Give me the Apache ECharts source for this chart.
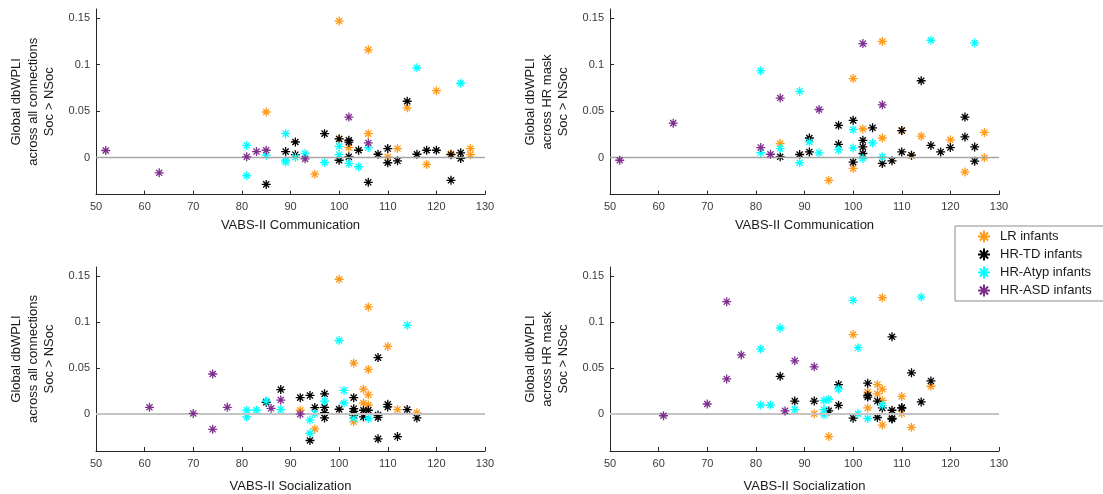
<!DOCTYPE html>
<html>
<head>
<meta charset="utf-8">
<script src="https://cdn.jsdelivr.net/npm/echarts@6/dist/echarts.min.js"></script>
<style>
html,body{margin:0;padding:0;background:#fff;}
#c{width:1103px;height:494px;}
</style>
</head>
<body>
<div id="c"></div>
<script>
// ---- Data ----
const groups = ['LR infants', 'HR-TD infants', 'HR-Atyp infants', 'HR-ASD infants'];
const groupColors = ['#FF9A1A', '#000000', '#00FFFF', '#7E2F8E'];
const xTicks = [50, 60, 70, 80, 90, 100, 110, 120, 130];
const yTicks = [0, 0.05, 0.1, 0.15];
const xLabels = ['VABS-II Communication', 'VABS-II Communication', 'VABS-II Socialization', 'VABS-II Socialization'];
const yLabels = [
  'Global dbWPLI\nacross all connections\nSoc > NSoc',
  'Global dbWPLI\nacross HR mask\nSoc > NSoc',
  'Global dbWPLI\nacross all connections\nSoc > NSoc',
  'Global dbWPLI\nacross HR mask\nSoc > NSoc'
];

// Panel 1: Communication vs all connections
const p1LR = [[85,0.049],[95,-0.018],[100,0.147],[100,0.020],[102,0.0107],[106,0.116],[106,0.0257],[110,0.0007],[112,0.0096],[114,0.0535],[118,-0.0075],[120,0.072],[123,0.004],[127,0.0096],[127,0.003]];
const p1TD = [[85,-0.029],[89,0.0064],[91,0.0167],[91,0.003],[97,0.0257],[100,0.020],[100,-0.003],[102,0.0185],[102,0.0165],[102,0.0007],[104,0.0078],[106,-0.0268],[108,0.0035],[110,0.0096],[110,-0.0057],[112,-0.0036],[114,0.0606],[116,0.0035],[118,0.0078],[120,0.0078],[123,0.003],[123,-0.0246],[125,0.005],[125,-0.001]];
const p1Atyp = [[81,0.013],[81,-0.0197],[85,0.0025],[89,0.0257],[89,-0.003],[89,-0.005],[91,0.0003],[93,0.0043],[97,-0.0054],[100,0.012],[100,0.003],[102,-0.0064],[104,-0.010],[106,0.0107],[116,0.0967],[125,0.08]];
const p1ASD = [[52,0.0075],[63,-0.0165],[81,0.0007],[83,0.0064],[85,0.0078],[93,-0.0015],[102,0.0435],[106,0.0157]];

// Panel 2: Communication vs HR mask
const p2LR = [[85,0.015],[95,-0.0246],[100,0.085],[100,-0.0118],[102,0.0307],[106,0.125],[106,0.021],[110,0.029],[112,0.0025],[114,0.023],[120,0.019],[123,-0.0157],[127,0.027],[127,-0.0004]];
const p2TD = [[85,0.0007],[89,0.0032],[91,0.021],[91,0.006],[97,0.0346],[97,0.0142],[100,0.04],[100,-0.005],[102,0.0185],[102,0.0114],[102,0.0043],[104,0.032],[106,-0.0064],[108,-0.0036],[110,0.029],[110,0.006],[112,0.0025],[114,0.0827],[116,0.013],[118,0.006],[120,0.0107],[123,0.0435],[123,0.0221],[125,0.0114],[125,-0.004]];
const p2Atyp = [[81,0.0935],[81,0.0053],[85,0.0096],[89,0.0713],[89,-0.0057],[91,0.0167],[93,0.005],[97,0.0082],[100,0.03],[100,0.0103],[102,-0.0011],[104,0.0157],[106,0.0007],[116,0.1263],[125,0.1234]];
const p2ASD = [[52,-0.003],[63,0.037],[81,0.0107],[83,0.0035],[85,0.064],[93,0.0517],[102,0.1227],[106,0.0567]];

// Panel 3: Socialization vs all connections
const p3LR = [[92,0.0043],[95,-0.016],[100,0.1467],[103,0.0555],[103,-0.0083],[105,0.0272],[105,0.0122],[106,0.1166],[106,0.0487],[106,0.0211],[106,0.01],[110,0.0737],[112,0.005],[116,0.0015]];
const p3TD = [[85,0.013],[88,0.0268],[92,0.018],[94,0.0204],[94,-0.0286],[95,0.0072],[97,0.0222],[97,0.0075],[97,0.0018],[97,-0.004],[100,0.0054],[103,0.018],[103,0.006],[103,0.003],[103,-0.001],[105,0.0043],[105,-0.0029],[106,0.0043],[108,0.0615],[108,-0.001],[108,-0.0035],[108,-0.0268],[110,0.0107],[110,0.0079],[112,-0.0243],[114,0.005],[116,-0.004]];
const p3Atyp = [[81,0.0043],[81,-0.0029],[83,0.0043],[85,0.0143],[88,0.005],[94,-0.0064],[94,-0.0207],[95,0.0007],[97,0.0143],[100,0.0801],[101,0.0258],[101,0.0122],[103,-0.0047],[106,-0.0047],[114,0.0966]];
const p3ASD = [[61,0.0075],[70,0.0008],[74,0.0437],[74,-0.0164],[77,0.0075],[86,0.0064],[88,0.0154],[92,0.0]];

// Panel 4: Socialization vs HR mask
const p4LR = [[92,0.0005],[95,-0.0243],[100,0.0866],[103,0.024],[103,0.0068],[105,0.0322],[105,0.0222],[106,0.1266],[106,0.0272],[106,0.015],[106,-0.0118],[110,0.0193],[110,0.0007],[112,-0.0143],[116,0.0304]];
const p4TD = [[85,0.0412],[88,0.0143],[92,0.0143],[95,0.0036],[97,0.0322],[97,0.0097],[100,-0.0043],[103,0.0337],[103,0.0204],[103,0.0186],[105,0.0143],[105,-0.0036],[106,0.0068],[108,0.0841],[108,0.0043],[108,-0.0047],[108,-0.0052],[110,0.0072],[110,0.0065],[112,0.045],[114,0.0133],[116,0.0362]];
const p4Atyp = [[81,0.0708],[81,0.01],[83,0.01],[85,0.0937],[88,0.005],[94,0.015],[94,0.005],[94,-0.0007],[95,0.0161],[97,0.0275],[100,0.1238],[101,0.0723],[101,0.0005],[103,-0.0047],[106,0.0097],[114,0.1273]];
const p4ASD = [[61,-0.0017],[70,0.0111],[74,0.1223],[74,0.0383],[77,0.0644],[86,0.0036],[88,0.058],[92,0.0515]];

const panels = [
  [p1LR, p1TD, p1Atyp, p1ASD],
  [p2LR, p2TD, p2Atyp, p2ASD],
  [p3LR, p3TD, p3Atyp, p3ASD],
  [p4LR, p4TD, p4Atyp, p4ASD]
];

// ---- Layout ----
const gridBoxes = [
  {left: 96, top: 9, width: 389, height: 185.6},
  {left: 610, top: 9, width: 389, height: 185.6},
  {left: 96, top: 267, width: 389, height: 186},
  {left: 610, top: 267, width: 389, height: 186}
];
const xNameGaps = [24, 24, 29, 29];
const zeroLineStyles = [
  {color: '#a6a6a6', width: 1.3},
  {color: '#a6a6a6', width: 1.3},
  {color: '#c4c4c4', width: 2.2},
  {color: '#c4c4c4', width: 2.2}
];
const star = 'path://M5,0L5,10M0,5L10,5M1.6,1.6L8.4,8.4M1.6,8.4L8.4,1.6';
const FONT = '"Liberation Sans", Arial, Helvetica, sans-serif';
const axisColor = '#262626';

const grid = [], xAxis = [], yAxis = [], series = [];
gridBoxes.forEach((g, i) => {
  grid.push(Object.assign({containLabel: false}, g));
  xAxis.push({
    type: 'value', gridIndex: i, min: xTicks[0], max: xTicks[xTicks.length - 1], interval: 10,
    name: xLabels[i], nameLocation: 'middle', nameGap: xNameGaps[i],
    nameTextStyle: {fontFamily: FONT, fontSize: 13, color: '#1a1a1a'},
    axisLine: {show: true, onZero: false, lineStyle: {color: axisColor, width: 1}},
    axisTick: {show: true, inside: true, length: 4, lineStyle: {color: axisColor}},
    axisLabel: {fontFamily: FONT, fontSize: 11, color: '#3a3a3a', margin: 7, showMinLabel: true, showMaxLabel: true},
    splitLine: {show: false}
  });
  yAxis.push({
    type: 'value', gridIndex: i, min: -0.04, max: 0.16,
    name: yLabels[i], nameLocation: 'middle', nameRotate: 90, nameGap: 38,
    nameTextStyle: {fontFamily: FONT, fontSize: 13, color: '#1a1a1a', lineHeight: 16.5, align: 'center'},
    axisLine: {show: true, onZero: false, lineStyle: {color: axisColor, width: 1}},
    axisTick: {show: true, inside: true, length: 4, lineStyle: {color: axisColor}, customValues: yTicks},
    axisLabel: {fontFamily: FONT, fontSize: 11, color: '#3a3a3a', margin: 6, customValues: yTicks,
      formatter: v => String(Math.round(v * 100) / 100)},
    splitLine: {show: false}
  });
  // zero reference line
  series.push({
    type: 'line', xAxisIndex: i, yAxisIndex: i, data: [], silent: true, z: 1,
    markLine: {silent: true, symbol: ['none', 'none'], label: {show: false},
      lineStyle: Object.assign({type: 'solid'}, zeroLineStyles[i]),
      data: [{yAxis: 0}], animation: false}
  });
  panels[i].forEach((d, k) => {
    series.push({
      type: 'scatter', name: groups[k], xAxisIndex: i, yAxisIndex: i, data: d,
      symbol: star, symbolSize: 9, z: 2 + k,
      itemStyle: {color: 'rgba(0,0,0,0)', borderColor: groupColors[k], borderWidth: 1.3, opacity: 1},
      emphasis: {disabled: true}
    });
  });
});

const chart = echarts.init(document.getElementById('c'), null, {renderer: 'canvas'});
chart.setOption({
  animation: false,
  backgroundColor: '#ffffff',
  grid, xAxis, yAxis, series,
  legend: {
    data: groups, orient: 'vertical', left: 955, top: 226,
    itemWidth: 12, itemHeight: 12, itemGap: 3,
    padding: [3, 20, 3, 22],
    backgroundColor: '#ffffff', borderColor: '#8c8c8c', borderWidth: 1,
    textStyle: {fontFamily: FONT, fontSize: 13, color: '#1a1a1a', lineHeight: 15, padding: [0, 0, 0, 5]},
    selectedMode: false
  }
});
</script>
</body>
</html>
